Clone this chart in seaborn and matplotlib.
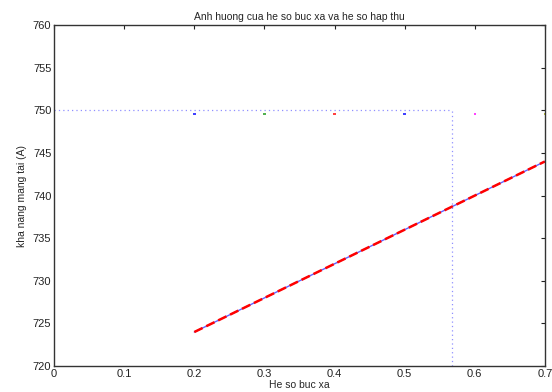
#!/usr/bin/env python3
# coding: utf-8
import numpy as np
import pandas as pd
import seaborn as sns
import matplotlib.pyplot as plt

# ------------------------------------------------
# Data
# ------------------------------------------------
he_so_buc_xa = [0.2, 0.3, 0.4, 0.5, 0.6, 0.7]
kha_nang_line = [724, 728, 732, 736, 740, 744]
diem_y = [749.6, 749.6, 749.6, 749.6, 749.6, 749.6]
diem_mau = ["#4040ff", "#50b050", "#ff4040", "#4040ff", "#ff40ff", "#c0c040"]
ref_level = [750, 750]
ref_x = [0, 0.567]
cross_x = [0.567, 0.567]
cross_y = [720, 750]

# ------------------------------------------------
# Plot
# ------------------------------------------------
sns.set_theme(style="white", context="paper")
plt.rcParams['font.family'] = ['Liberation Sans', 'DejaVu Sans']

fig = plt.figure(figsize=(5.52, 3.92), dpi=100)
ax = fig.add_axes([0.098, 0.066, 0.889, 0.870])

data = pd.DataFrame({"x": he_so_buc_xa, "y": kha_nang_line})
sns.lineplot(x="x", y="y", data=data, ax=ax, color="#6060ff", linewidth=1.0)
sns.lineplot(x="x", y="y", data=data, ax=ax, color="red", linewidth=1.8,
             dashes=(2.5, 1.2), linestyle="--")

ax.plot(ref_x, ref_level, color="#9090ff", linestyle=(0, (1, 2.5)), linewidth=0.9)
ax.plot(cross_x, cross_y, color="#9090ff", linestyle=(0, (1, 2.5)), linewidth=0.9)

pts = pd.DataFrame({"x": he_so_buc_xa, "y": diem_y, "c": [str(i) for i in range(6)]})
sns.scatterplot(x="x", y="y", hue="c", data=pts, ax=ax, palette=diem_mau,
                marker="s", s=3, linewidth=0, legend=False)

ax.set_xlim(0, 0.7)
ax.set_ylim(720, 760)
ax.set_xticks(np.arange(0, 0.71, 0.1))
ax.set_xticklabels(["0", "0.1", "0.2", "0.3", "0.4", "0.5", "0.6", "0.7"])
ax.set_yticks(range(720, 761, 5))
ax.tick_params(direction="in", top=True, right=True, length=3, width=0.8,
               labelsize=8, pad=2, colors="#222222")
for s in ax.spines.values():
    s.set_color("#333333")
    s.set_linewidth(1.0)

ax.set_title("Anh huong cua he so buc xa va he so hap thu", fontsize=7.5, pad=4)
ax.set_xlabel("He so buc xa", fontsize=7.5, labelpad=1)
ax.set_ylabel("kha nang mang tai (A)", fontsize=7.5, labelpad=4)

plt.savefig("out.png", dpi=100)
plt.close(fig)
